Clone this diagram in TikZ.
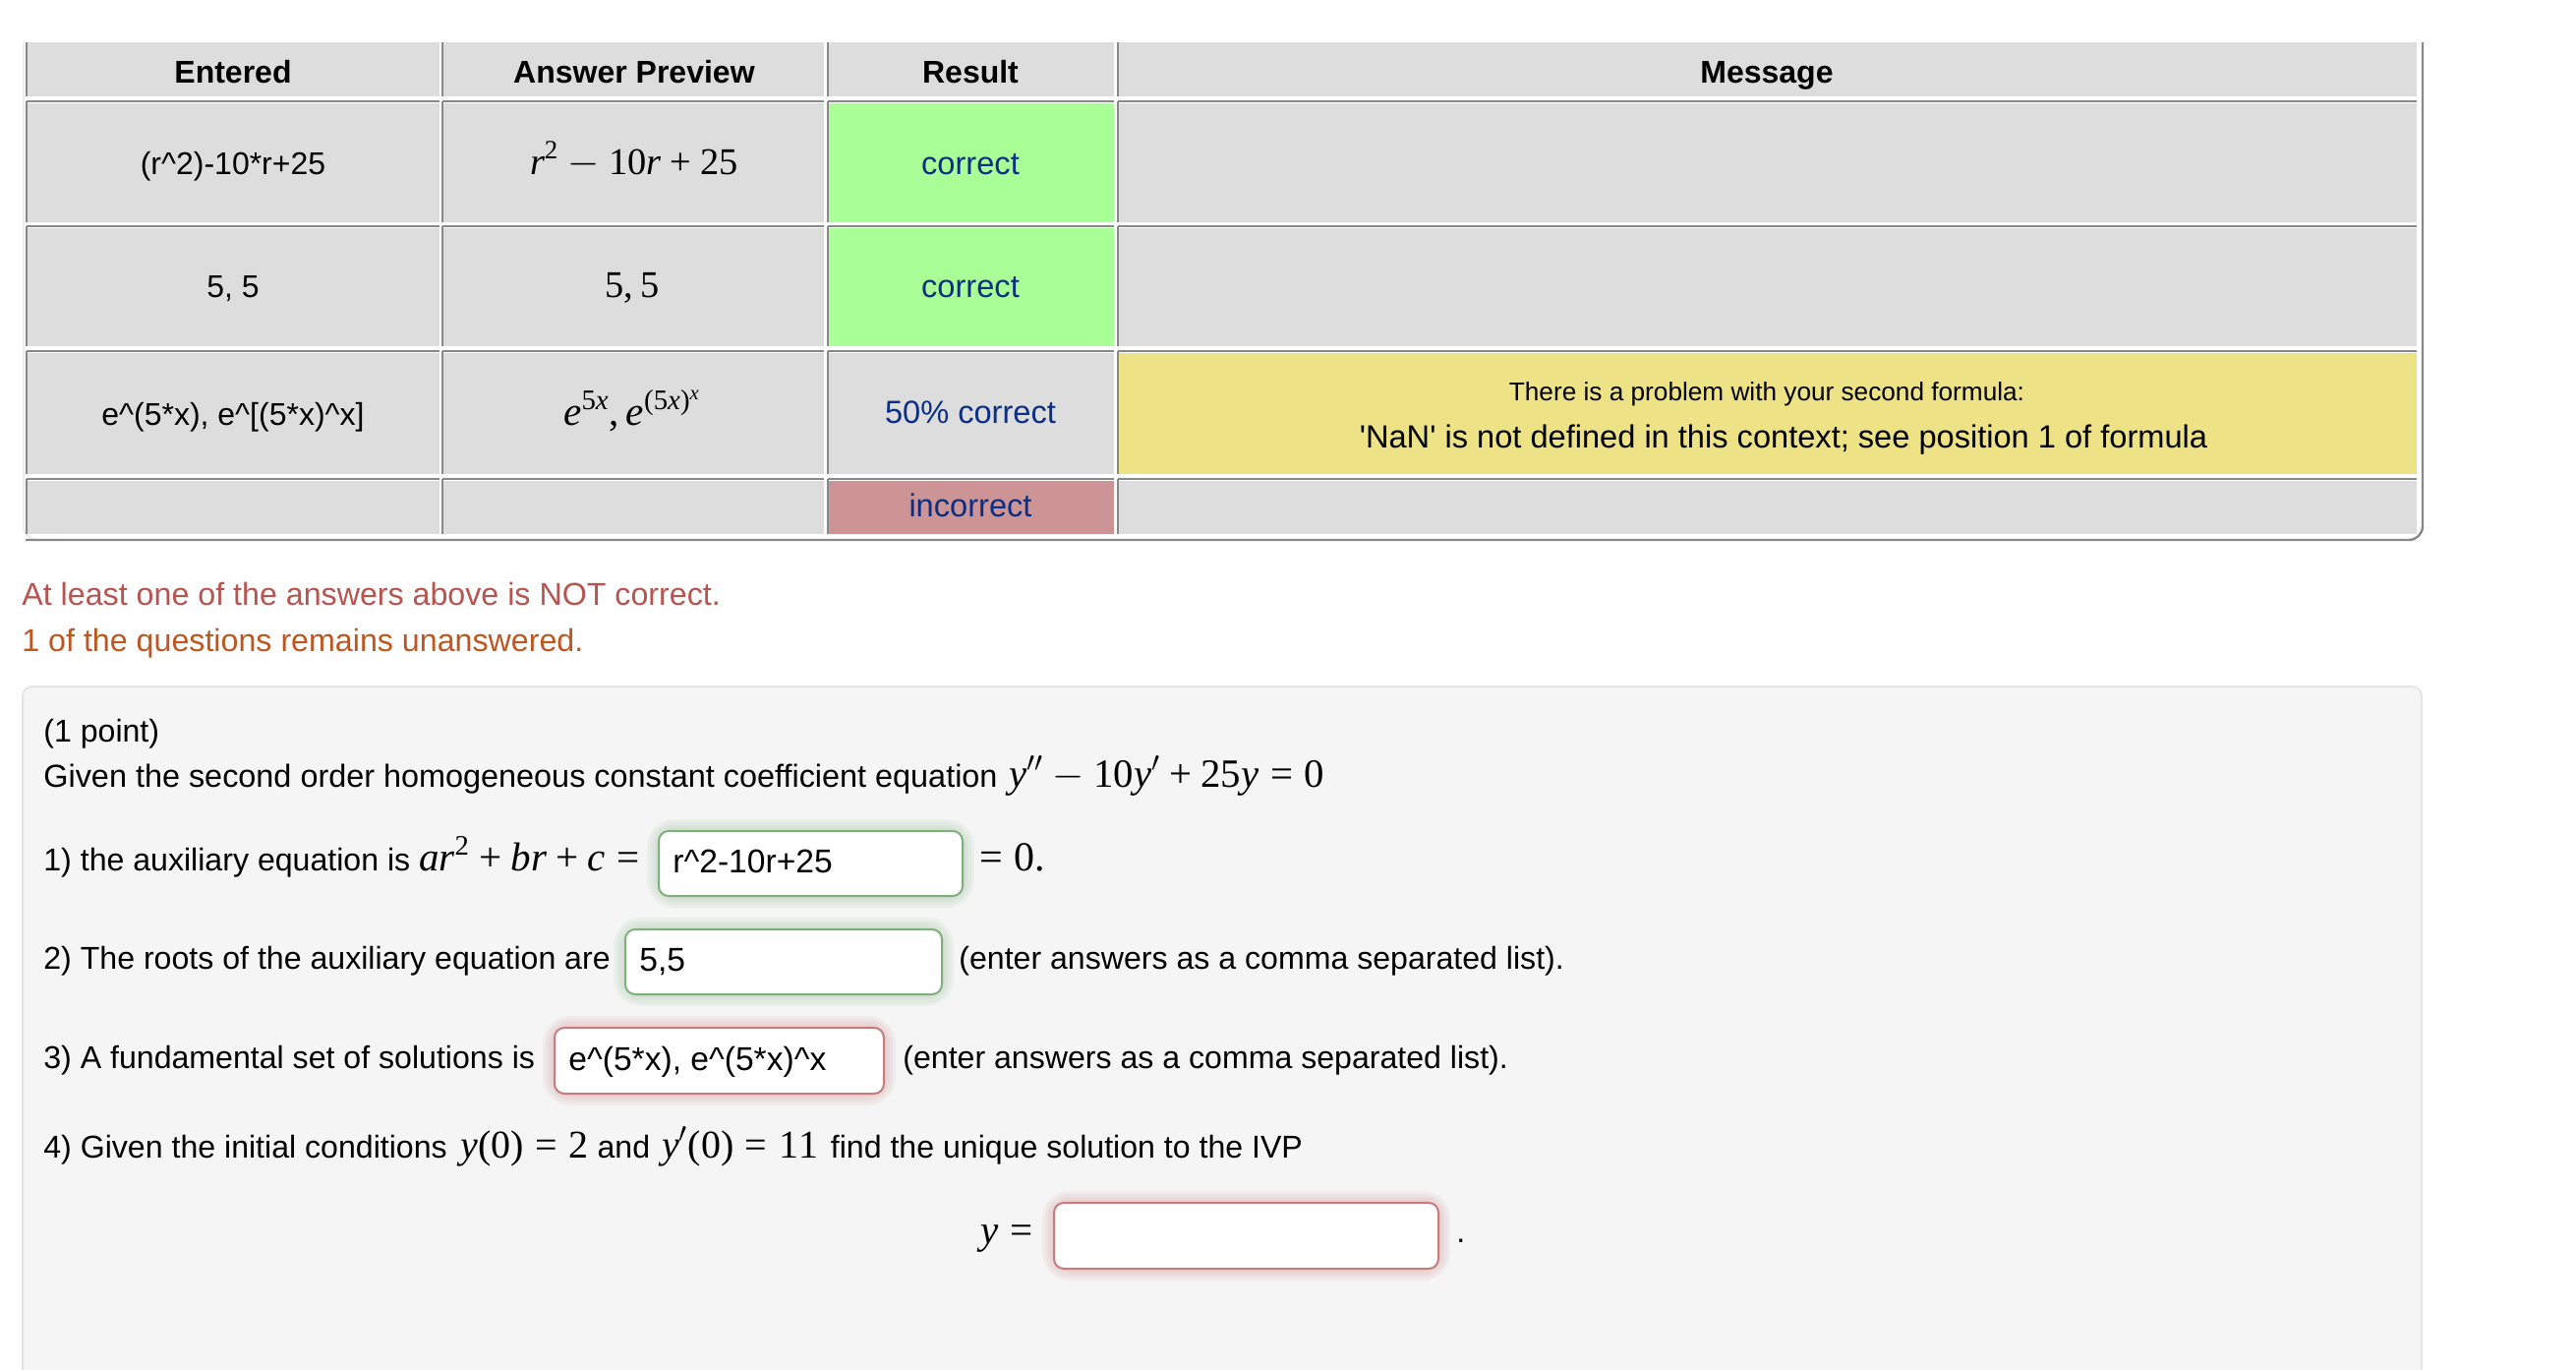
\documentclass[tikz,border=0pt]{standalone}
\usepackage[no-math]{fontspec}
\setmainfont{Liberation Sans}
\newfontfamily\libserif{Liberation Serif}[NFSSFamily=LibSerif]
\usepackage{xcolor}
\DeclareSymbolFont{libops}{TU}{LibSerif}{m}{n}
\DeclareSymbolFont{libit}{TU}{LibSerif}{m}{it}
\AtBeginDocument{
\DeclareMathSymbol{0}{\mathalpha}{libops}{`0}
\DeclareMathSymbol{1}{\mathalpha}{libops}{`1}
\DeclareMathSymbol{2}{\mathalpha}{libops}{`2}
\DeclareMathSymbol{5}{\mathalpha}{libops}{`5}
\DeclareMathSymbol{+}{\mathbin}{libops}{`+}
\DeclareMathSymbol{=}{\mathrel}{libops}{`=}
\DeclareMathSymbol{(}{\mathopen}{libops}{`(}
\DeclareMathSymbol{)}{\mathclose}{libops}{`)}
\DeclareMathSymbol{,}{\mathpunct}{libops}{`,}
\DeclareMathSymbol{.}{\mathord}{libops}{`.}
\DeclareMathSymbol{a}{\mathalpha}{libit}{`a}
\DeclareMathSymbol{b}{\mathalpha}{libit}{`b}
\DeclareMathSymbol{c}{\mathalpha}{libit}{`c}
\DeclareMathSymbol{e}{\mathalpha}{libit}{`e}
\DeclareMathSymbol{r}{\mathalpha}{libit}{`r}
\DeclareMathSymbol{x}{\mathalpha}{libit}{`x}
\DeclareMathSymbol{y}{\mathalpha}{libit}{`y}
}
\definecolor{cellgray}{HTML}{DDDDDD}
\definecolor{linegray}{HTML}{888888}
\definecolor{goodgreen}{HTML}{A9FF96}
\definecolor{warnyellow}{HTML}{EDE285}
\definecolor{badred}{HTML}{CC9494}
\definecolor{resultblue}{HTML}{0B2F85}
\definecolor{wrongred}{HTML}{B85450}
\definecolor{blankorange}{HTML}{C0561F}
\definecolor{panelgray}{HTML}{F5F5F5}
\definecolor{panelline}{HTML}{E5E5E5}
\definecolor{boxgreen}{HTML}{7FAF7B}
\definecolor{boxred}{HTML}{C97B7B}
\tikzset{
	cell/.style={anchor=base,inner sep=0pt,font=\fontsize{16}{20}\selectfont},
	line/.style={anchor=base west,inner sep=0pt,font=\fontsize{16.05}{20}\selectfont},
	result/.style={cell,text=resultblue,font=\fontsize{16.3}{20}\selectfont}
}
\newcommand{\mth}[2][20]{{\fontsize{#1}{22}\selectfont$#2$}}
% glow, then white box, then its text
\newcommand{\inputbox}[7]{
	\foreach \w in {24,18,12,6}
		\draw[#6,opacity=.08,line width=\w*.5pt,rounded corners=8pt] (#2,#3) rectangle (#4,#5);
	\draw[#6,fill=white,line width=1pt,rounded corners=5pt] (#2,#3) rectangle (#4,#5);
	\node[line,font=\fontsize{16.8}{20}\selectfont] (#1) at (#2+14,#5-24) {#7};
}

\begin{document}
\begin{tikzpicture}[x=.5pt,y=-.5pt]
	\useasboundingbox (0,0) rectangle (2620,1393);
	% table
	\draw[cellgray!50,line width=1.2pt,rounded corners=7pt] (24,43) -- (24,549) -- (60,549);
	\draw[linegray,line width=1.2pt,rounded corners=7pt] (26,549) -- (2464,549) -- (2464,43);
	\foreach \xa/\xb in {28/447,451/838,843/1133,1138/2458} {
		\fill[cellgray] (\xa,43) rectangle (\xb,98);
		\draw[linegray,line width=.8pt] (\xa-1,43) -- (\xa-1,98);
		\foreach \ya/\yb in {105/226,232/352,359/482,489/543} {
			\fill[cellgray] (\xa,\ya) rectangle (\xb,\yb);
			\draw[linegray,line width=.8pt] (\xa-1,\ya-2) -- (\xa-1,\yb);
			\draw[linegray,line width=1.2pt] (\xa-1,\ya-2) -- (\xb,\ya-2);
		}
	}
	\fill[goodgreen] (843,105) rectangle (1133,226);
	\fill[goodgreen] (843,232) rectangle (1133,352);
	\fill[badred] (843,489) rectangle (1133,543);
	\fill[warnyellow] (1138,359) rectangle (2458,482);

	\node[cell] (entered) at (237,84) {\textbf{Entered}};
	\node[cell] (preview) at (645,84) {\textbf{Answer Preview}};
	\node[cell] (result) at (987,84) {\textbf{Result}};
	\node[cell] (message) at (1797,84) {\textbf{Message}};

	\node[cell] (enteredA) at (237,177) {(r\^{}2)-10*r+25};
	\node[cell] (previewA) at (645,177) {\mth[19.2]{r^2-10r+25}};
	\node[result] (resultA) at (987,177) {correct};

	\node[cell] (enteredB) at (237,302) {5, 5};
	\node[cell] (previewB) at (643,302) {\mth[19.2]{5,5}};
	\node[result] (resultB) at (987,302) {correct};

	\node[cell] (enteredC) at (237,432) {e\^{}(5*x), e\^{}[(5*x)\^{}x]};
	\node[cell] (previewC) at (643,432) {\mth[20.6]{e^{5x},e^{(5x)^x}}};
	\node[result] (resultC) at (987,430) {50\% correct};
	\node[cell,font=\fontsize{13.1}{18}\selectfont] (messageA) at (1797,407) {There is a problem with your second formula:};
	\node[cell,font=\fontsize{16.3}{20}\selectfont] (messageB) at (1814,455) {\textquotesingle NaN\textquotesingle{} is not defined in this context; see position 1 of formula};

	\node[result] (resultD) at (987,525) {incorrect};

	% notes under the table
	\node[line,text=wrongred,font=\fontsize{16.1}{20}\selectfont] (notcorrect) at (22,615) {At least one of the answers above is NOT correct.};
	\node[line,text=blankorange,font=\fontsize{16.1}{20}\selectfont] (unanswered) at (22,662) {1 of the questions remains unanswered.};

	% problem panel
	\draw[panelline,fill=panelgray,line width=1pt,rounded corners=5pt] (23,1400) -- (23,698) -- (2463,698) -- (2463,1400);
	\node[line] (point) at (44,754) {(1 point)};
	\node[line,font=\fontsize{16.2}{20}\selectfont] (given) at (44,800) {Given the second order homogeneous constant coefficient equation\hspace{1.5pt} \mth[20.4]{y''-10y'+25y=0}};

	\node[line] (partA) at (44,885) {1) the auxiliary equation is \mth[20.5]{ar^2+br+c=}};
	\inputbox{boxA}{670}{845}{979}{911}{boxgreen}{r\^{}2-10r+25}
	\node[line] (zero) at (996,885) {\mth[21]{=0.}};

	\node[line] (partB) at (44,985) {2) The roots of the auxiliary equation are};
	\inputbox{boxB}{636}{945}{958}{1011}{boxgreen}{5,5}
	\node[line] (listB) at (975,985) {(enter answers as a comma separated list).};

	\node[line] (partC) at (44,1086) {3) A fundamental set of solutions is};
	\inputbox{boxC}{564}{1045}{899}{1112}{boxred}{e\^{}(5*x), e\^{}(5*x)\^{}x}
	\node[line] (listC) at (918,1086) {(enter answers as a comma separated list).};

	\node[line] (partD) at (44,1177) {4) Given the initial conditions\hspace{2.5pt} \mth{y(0)=2} and\hspace{1.5pt} \mth{y'(0)=11}\hspace{2pt} find the unique solution to the IVP};
	\node[line] (solution) at (997,1264) {\mth[20.5]{y=}};
	\inputbox{boxD}{1072}{1223}{1463}{1290}{boxred}{}
	\node[line] (dot) at (1481,1263) {.};
\end{tikzpicture}
\end{document}
